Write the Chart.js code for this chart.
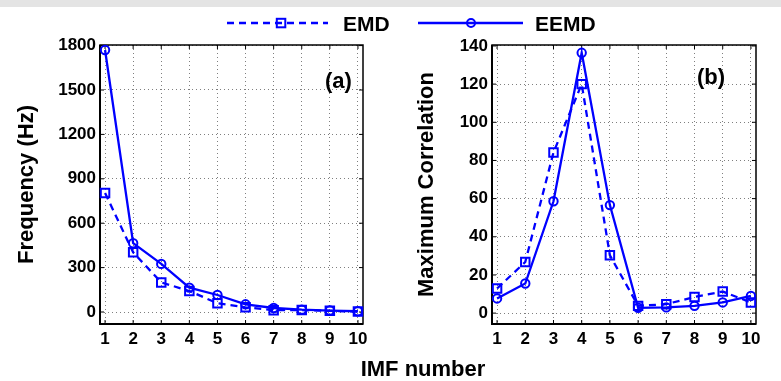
<!DOCTYPE html>
<html>
<head>
<meta charset="utf-8">
<script src="https://cdn.jsdelivr.net/npm/chart.js@4.4.0/dist/chart.umd.min.js"></script>
<style>
  body { margin: 0; background: #fff; }
  #wrap { position: relative; width: 781px; height: 381px; overflow: hidden; font-family: "Liberation Sans", Arial, sans-serif; font-weight: bold; }
  canvas { position: absolute; top: 0; }
  .t { position: absolute; white-space: nowrap; color: #000; line-height: 1.117; }
</style>
</head>
<body>
<div id="wrap">
  <div style="position:absolute;left:0;top:0;width:781px;height:7px;background:#e4e4e4"></div>
  <canvas id="c1" width="390" height="381" style="left:0;width:390px;height:381px"></canvas>
  <canvas id="c2" width="391" height="381" style="left:390px;width:391px;height:381px"></canvas>

  <svg style="position:absolute;left:0;top:0" width="781" height="45">
    <line x1="227" y1="23" x2="328" y2="23" stroke="#0000ff" stroke-width="2.3" stroke-dasharray="7,5"/>
    <rect x="276.8" y="18.8" width="8.5" height="8.5" fill="none" stroke="#0000ff" stroke-width="2"/>
    <line x1="418" y1="23" x2="523" y2="23" stroke="#0000ff" stroke-width="2.3"/>
    <circle cx="471" cy="23" r="4" fill="none" stroke="#0000ff" stroke-width="2"/>
  </svg>
  <div class="t" style="left:343px;top:11.5px;font-size:21px">EMD</div>
  <div class="t" style="left:535px;top:11.5px;font-size:21px">EEMD</div>
  <div class="t" style="left:325px;top:69px;font-size:22px">(a)</div>
  <div class="t" style="left:697px;top:65px;font-size:22px">(b)</div>
  <div class="t" style="left:323px;width:200px;text-align:center;top:357px;font-size:22px">IMF number</div>
</div>

<script>
var imf = [1, 2, 3, 4, 5, 6, 7, 8, 9, 10];

// panel (a): frequency (Hz)
var freqEMD  = [804, 403, 200, 142, 59, 32, 12, 13, 8, 3];
var freqEEMD = [1770, 465, 325, 165, 115, 52, 27, 16, 10, 5];
var freqTicks = [0, 300, 600, 900, 1200, 1500, 1800];

// panel (b): maximum correlation
var corrEMD  = [12.9, 26.8, 84.2, 120, 30.3, 3.8, 4.7, 8.5, 11.3, 5.6];
var corrEEMD = [7.7, 15.5, 58.6, 136.4, 56.6, 2.8, 3.0, 3.8, 5.6, 9.0];
var corrTicks = [0, 20, 40, 60, 80, 100, 120, 140];

var blue = '#0000ff';
var font = "'Liberation Sans', Arial, sans-serif";

// black box round the plot with small inward ticks, like matlab
var boxPlugin = {
  id: 'box',
  beforeDatasetsDraw: function(chart) {
    var a = chart.chartArea, ctx = chart.ctx;
    var xs = chart.scales.x, ys = chart.scales.y;
    ctx.save();
    ctx.strokeStyle = '#000';
    ctx.lineWidth = 1;
    ctx.beginPath();
    xs.ticks.forEach(function(t) {
      var px = xs.getPixelForValue(t.value);
      ctx.moveTo(px, a.bottom); ctx.lineTo(px, a.bottom - 4);
      ctx.moveTo(px, a.top); ctx.lineTo(px, a.top + 4);
    });
    ys.ticks.forEach(function(t) {
      var py = ys.getPixelForValue(t.value);
      ctx.moveTo(a.left, py); ctx.lineTo(a.left + 4, py);
      ctx.moveTo(a.right, py); ctx.lineTo(a.right - 4, py);
    });
    ctx.stroke();
    ctx.lineWidth = 1.5;
    ctx.strokeRect(a.left, a.top, a.right - a.left, a.bottom - a.top);
    ctx.lineWidth = 2;
    ctx.beginPath();
    ctx.moveTo(a.left, a.top); ctx.lineTo(a.left, a.bottom); ctx.lineTo(a.right, a.bottom);
    ctx.stroke();
    ctx.restore();
  }
};

function points(vals) {
  return imf.map(function(x, i) { return { x: x, y: vals[i] }; });
}

function plain(v) { return String(v); }

function makeChart(id, emd, eemd, ticks, ymin, ymax, title, yWidth, titlePad, padRight) {
  return new Chart(document.getElementById(id), {
    type: 'line',
    data: {
      datasets: [{
        label: 'EMD',
        data: points(emd),
        borderColor: blue,
        borderWidth: 2.3,
        borderDash: [7, 5],
        pointStyle: 'rect',
        pointRadius: 6,
        pointBorderWidth: 2,
        pointBorderColor: blue,
        pointBackgroundColor: 'rgba(0,0,0,0)',
        fill: false,
        clip: false
      }, {
        label: 'EEMD',
        data: points(eemd),
        borderColor: blue,
        borderWidth: 2.3,
        pointStyle: 'circle',
        pointRadius: 4.2,
        pointBorderWidth: 2,
        pointBorderColor: blue,
        pointBackgroundColor: 'rgba(0,0,0,0)',
        fill: false,
        clip: false
      }]
    },
    options: {
      responsive: false,
      animation: false,
      layout: { padding: { left: 0, top: 45, right: padRight, bottom: 22 } },
      plugins: { legend: { display: false }, tooltip: { enabled: false } },
      scales: {
        x: {
          type: 'linear',
          min: 0.82, max: 10.18,
          afterBuildTicks: function(s) { s.ticks = imf.map(function(v) { return { value: v }; }); },
          afterFit: function(s) { s.height = 35; },
          grid: { color: 'rgba(0,0,0,0.5)', lineWidth: 1, drawTicks: false },
          border: { display: false, dash: [1, 3] },
          ticks: { color: '#000', padding: 5, callback: plain, font: { family: font, size: 17, weight: 'bold' }, maxRotation: 0 }
        },
        y: {
          min: ymin, max: ymax,
          afterBuildTicks: function(s) { s.ticks = ticks.map(function(v) { return { value: v }; }); },
          afterFit: function(s) { s.width = yWidth; },
          grid: { color: 'rgba(0,0,0,0.5)', lineWidth: 1, drawTicks: false },
          border: { display: false, dash: [1, 3] },
          ticks: { color: '#000', padding: 4, callback: plain, font: { family: font, size: 17, weight: 'bold' } },
          title: { display: true, text: title, color: '#000', padding: { top: titlePad, bottom: 0 },
                   font: { family: font, size: 22, weight: 'bold' } }
        }
      }
    },
    plugins: [boxPlugin]
  });
}

makeChart('c1', freqEMD, freqEEMD, freqTicks, -81, 1804, 'Frequency (Hz)', 100, 14, 27);
makeChart('c2', corrEMD, corrEEMD, corrTicks, -5.7, 140.5, 'Maximum Correlation', 102, 24, 25);
</script>
</body>
</html>
